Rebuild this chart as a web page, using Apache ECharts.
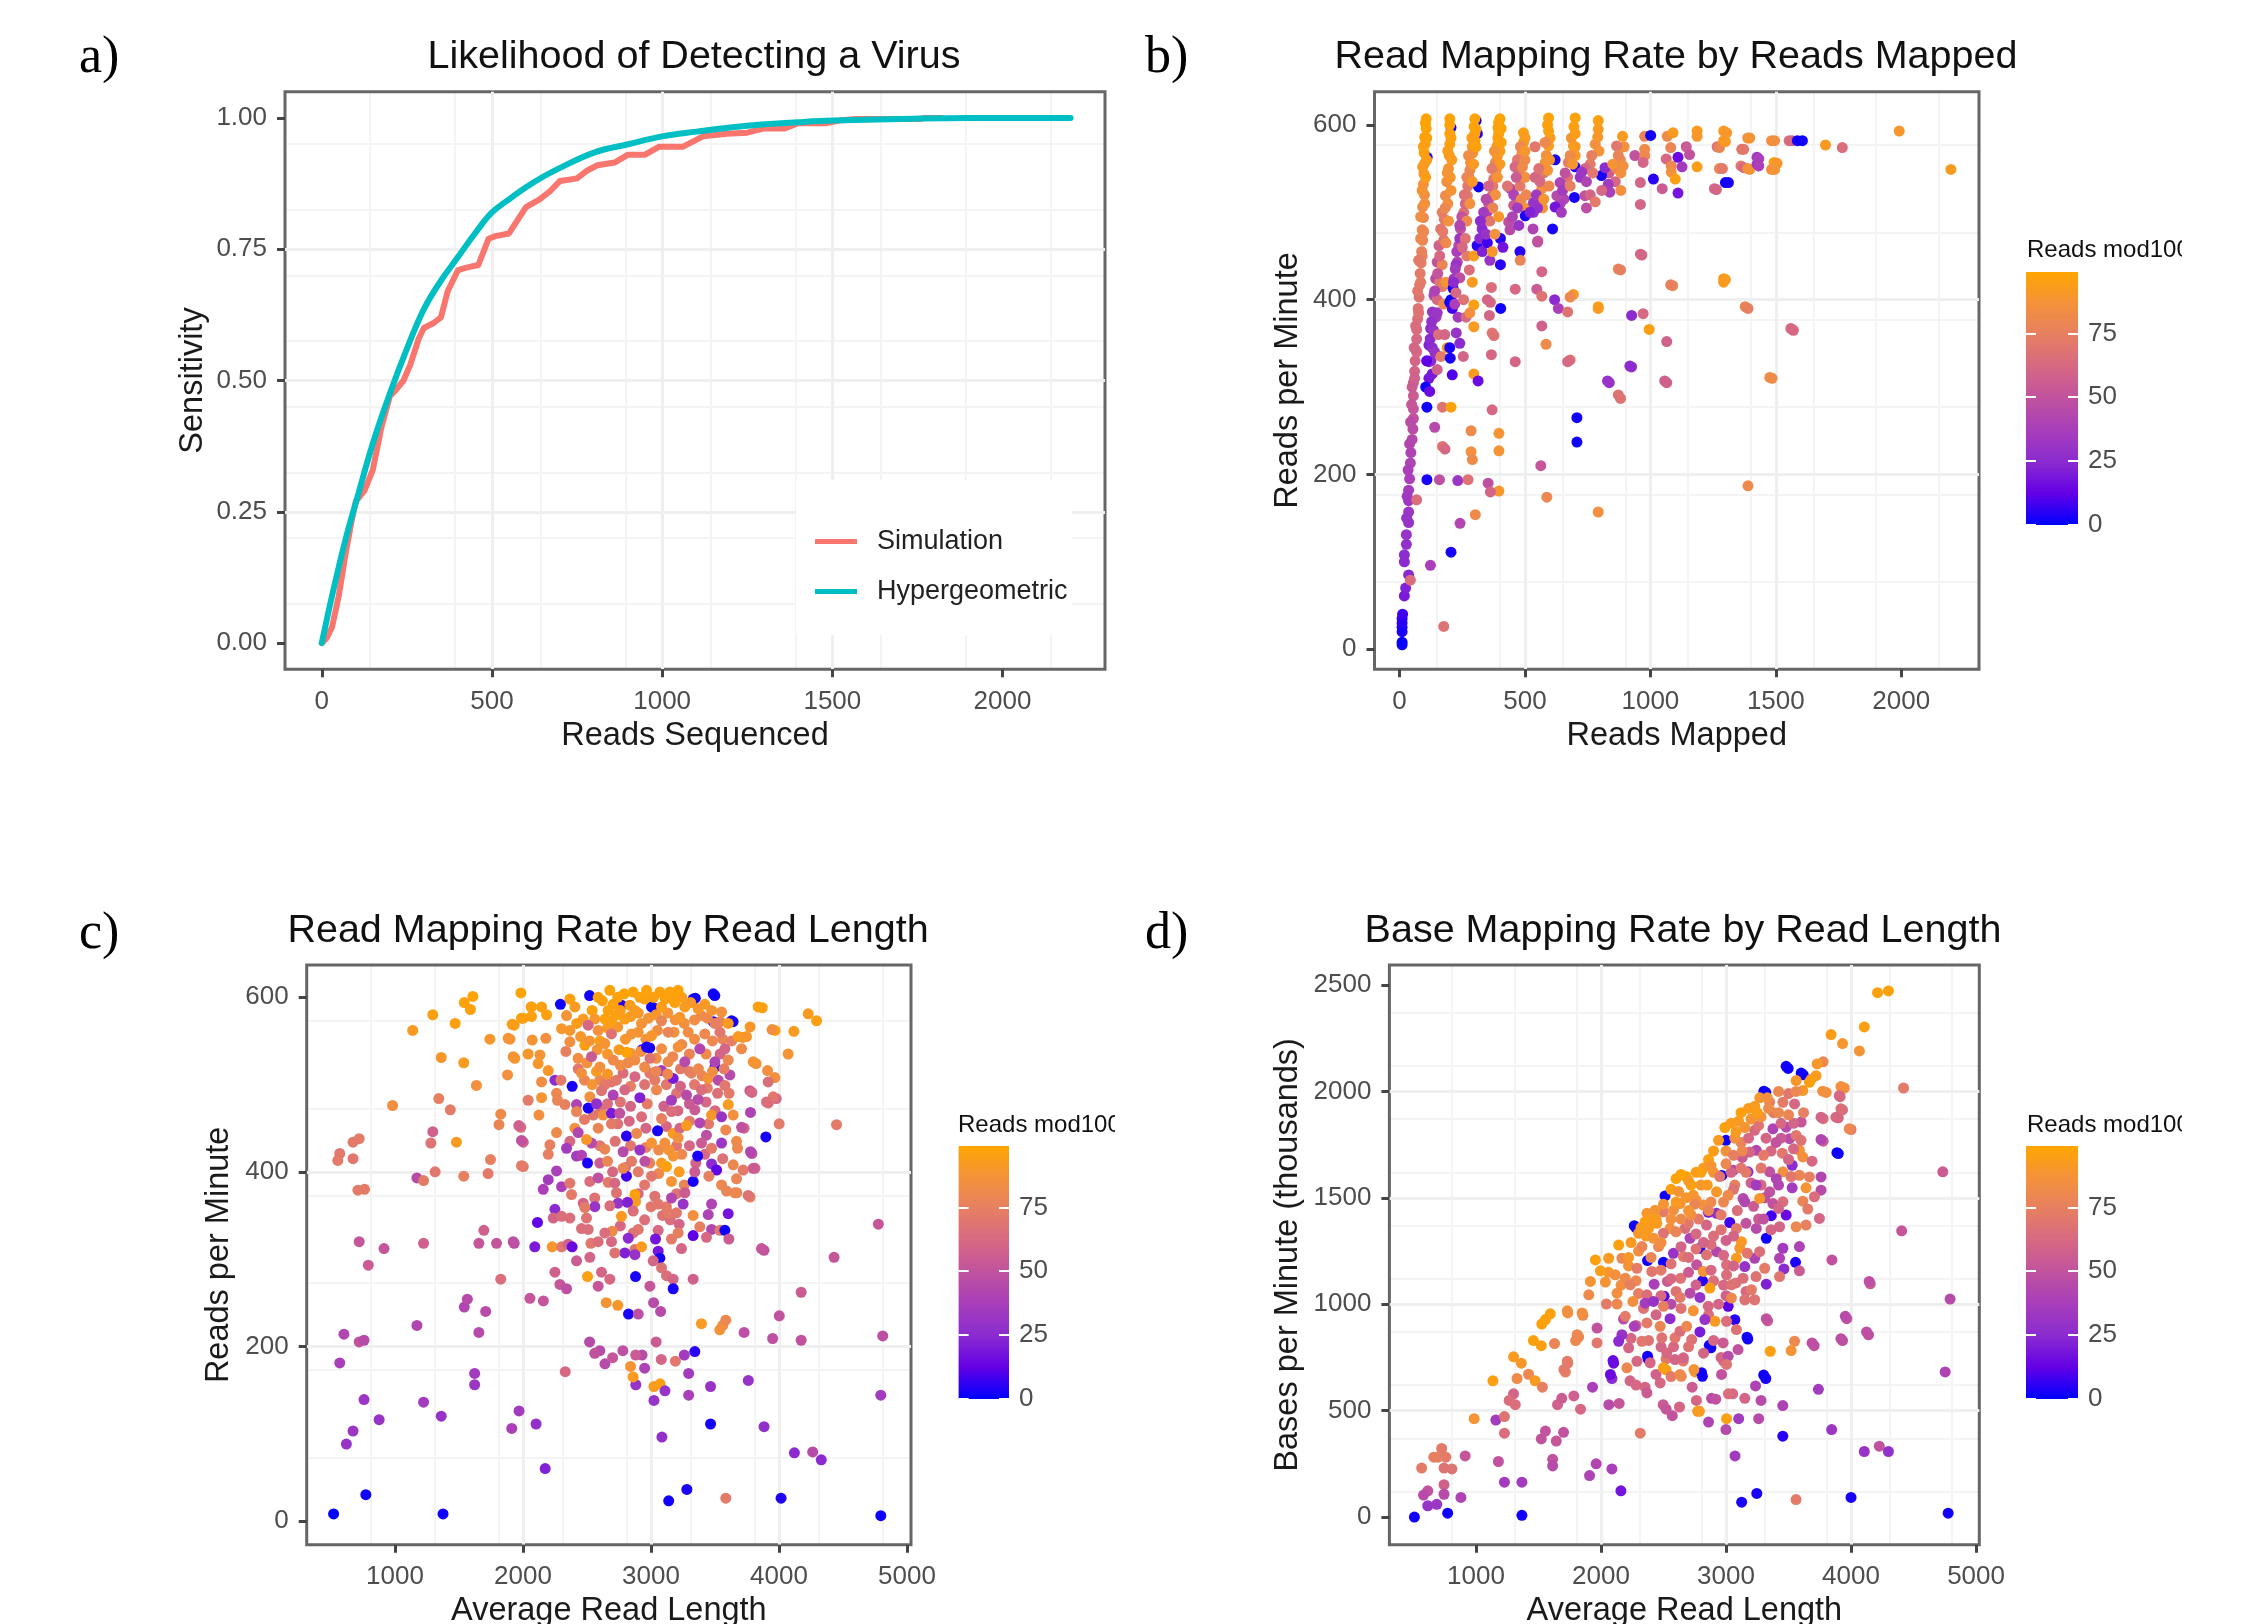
<!DOCTYPE html>
<html><head><meta charset="utf-8">
<style>html,body{margin:0;padding:0;background:#fff}#c{width:2257px;height:1624px}</style>
<script src="https://cdn.jsdelivr.net/npm/echarts@6/dist/echarts.min.js"></script>
</head><body><div id="c"></div>
<script>
// ---- Panel a: [reads sequenced, sensitivity]
const simulation=[[0,0],[15,.01],[30,.03],[50,.09],[70,.17],[90,.24],[100,.27],[125,.29],[150,.33],[175,.41],[200,.47],[215,.48],[240,.5],[260,.53],[285,.58],[300,.6],[330,.61],[350,.62],[370,.67],[400,.71],[425,.715],[460,.72],[490,.77],[510,.775],[550,.78],[580,.81],[600,.83],[640,.845],[670,.86],[700,.88],[750,.885],[780,.9],[810,.91],[860,.915],[900,.93],[950,.93],[990,.945],[1060,.945],[1090,.955],[1120,.965],[1190,.97],[1250,.972],[1300,.98],[1360,.98],[1400,.99],[1480,.99],[1520,.995],[1570,.998],[1760,.998],[1770,1],[1820,1]];
const hypergeometric=[[0,0],[25,.075],[50,.145],[75,.21],[100,.267],[150,.38],[200,.475],[250,.56],[300,.636],[350,.69],[400,.735],[450,.78],[500,.82],[550,.845],[600,.868],[650,.888],[700,.905],[800,.934],[900,.95],[1000,.965],[1100,.974],[1200,.982],[1300,.988],[1400,.992],[1500,.995],[1700,.998],[1900,1],[2200,1]];
// ---- Panel b: [reads mapped, reads per minute, reads mod100]
const mappedPoints=[
[305,605,2],[310,590,3],[205,597,2],[110,563,3],[315,529,2],[620,560,3],[700,552,3],
[10,5,2],[10,8,1],[10,20,3],[10,25,3],[10,30,5],[10,35,5],[12,40,8],[19,61,20],[24,70,22],[36,85,24],[19,100,25],[19,108,26],[27,120,28],[27,131,30],[36,145,30],[36,157,32],[36,170,33],[36,182,36],[40,195,38],[43,213,40],[45,225,40],[50,240,44],[53,252,46],[55,264,50],[55,275,52],[55,290,55],[55,305,56],[60,318,60],[62,330,60],[65,342,62],[68,355,62],[68,366,64],[72,378,66],[74,390,68],[78,403,68],[80,417,70],[82,430,72],[86,442,74],[88,455,76],[92,468,78],[90,480,80],[95,494,80],[92,506,82],[99,520,84],[95,532,86],[97,544,90],[100,556,92],[98,568,96],[102,578,97],[100,586,97],[106,596,98],[103,602,98],[106,607,98],
[108,585,96],[95,575,95],[108,560,94],[92,552,92],[104,540,94],[90,525,88],[100,510,86],[84,495,84],[96,478,80],[84,470,80],[90,450,76],[76,445,72],[84,420,72],[72,410,70],[76,385,68],[64,370,64],[68,340,62],[58,345,60],[60,310,58],[50,300,55],[48,280,52],[44,260,46],[40,235,42],[34,205,38],[30,175,34],[28,150,30],
[117,310,18],[117,329,20],[117,348,22],[124,367,25],[131,386,30],[137,405,42],[144,424,45],[150,443,50],[157,462,58],[164,481,70],[170,500,75],[183,519,82],[188,535,85],[195,550,88],[198,565,92],[200,578,95],[200,590,97],[200,600,98],[200,607,98],[104,300,2],[109,277,2],[171,277,68],[205,277,96],[125,330,25],[130,345,25],[135,365,30],[145,380,35],[150,400,62],[160,420,70],[170,440,78],[176,468,68],[178,492,72],[192,510,85],[202,540,90],[140,254,45],[171,232,68],[181,229,62],[109,194,3],[159,194,48],[123,96,38],[43,79,65],[68,171,65],[176,26,68],
[205,585,96],[192,570,94],[208,560,92],[190,545,88],[205,525,88],[182,505,80],[195,490,86],[172,478,72],[185,465,82],[160,450,62],[152,430,52],[170,415,72],[140,410,40],[150,385,32],[128,375,28],[122,355,25],[140,340,30],[108,330,12],[130,315,20],[120,295,15],[155,360,65],[165,335,72],[150,320,58],[180,360,60],[190,345,92],[175,395,80],[185,420,88],
[213,413,3],[205,400,2],[200,397,2],[217,424,35],[230,443,42],[236,462,45],[243,481,50],[256,500,68],[270,519,72],[283,557,85],[277,540,78],[290,575,92],[300,590,96],[300,607,97],[297,598,98],[225,440,30],[240,470,32],[250,490,45],[262,510,62],[272,530,70],[280,548,80],[292,568,88],[300,582,95],[268,450,72],[278,434,65],[296,450,92],[290,420,92],[225,408,62],[233,380,35],[296,394,95],[296,369,92],[226,362,30],[202,333,3],[210,314,10],[200,345,3],[296,315,92],[313,307,15],[254,335,60],[232,193,32],[273,194,68],[241,144,42],[205,111,3],[285,250,82],[396,247,88],[396,227,88],[285,226,85],[290,217,82],[302,154,82],
[305,595,97],[288,585,94],[305,575,96],[275,565,84],[295,555,92],[268,540,78],[290,535,90],[258,520,68],[280,510,85],[248,495,50],[268,490,80],[240,485,42],[262,470,68],[228,455,38],[250,460,62],[222,435,35],[240,425,48],[215,420,25],[210,390,8],[220,395,38],[255,400,68],[265,380,62],[280,385,85],[240,350,25],
[309,462,5],[329,481,25],[349,500,40],[369,519,65],[375,538,70],[382,557,80],[389,576,92],[395,590,96],[395,603,97],[400,607,98],[392,597,95],[320,470,25],[340,492,30],[355,510,55],[372,530,72],[385,548,85],[390,565,90],[400,570,94],[395,580,96],[330,455,22],[350,465,8],[360,445,30],[402,470,5],[412,460,18],[402,440,5],[366,414,65],[461,412,62],[362,397,62],[358,382,60],[350,400,60],[403,390,2],[369,362,70],[376,359,68],[366,337,62],[461,329,60],[369,274,62],[396,181,90],[353,190,48],[362,180,60],
[405,596,97],[392,585,96],[405,580,95],[378,570,88],[400,555,92],[368,550,72],[390,540,88],[355,530,60],[382,520,85],[345,515,45],[372,505,78],[335,500,35],[360,490,70],[322,490,25],[345,475,30],[395,495,90],[380,475,85],[370,455,90],
[442,527,45],[455,508,55],[435,489,48],[440,480,45],[475,546,72],[488,568,85],[494,580,92],[494,591,95],[470,560,70],[480,530,72],[500,540,85],[505,520,80],[480,455,5],[500,560,82],[455,520,40],[430,530,68],[481,445,78],[551,467,52],[547,412,55],[567,432,60],[567,404,68],[567,370,58],[584,349,82],[563,210,52],[587,174,80],
[500,585,92],[482,575,80],[500,570,90],[460,552,62],[490,552,82],[465,540,55],[485,515,80],[500,505,88],[450,495,40],[470,505,35],[475,485,30],[600,585,92],[585,565,85],[575,545,70],[598,560,90],[570,505,88],[555,515,40],[540,540,60],[550,505,28],[700,575,90],[685,585,88],[670,540,68],[655,515,42],[640,510,38],[700,565,92],[795,570,88],[760,555,72],[740,550,60],[720,540,30],[745,505,48],[880,560,80],[860,535,62],[835,545,55],[895,575,86],
[501,496,3],[534,500,28],[534,511,30],[532,481,40],[550,466,50],[567,527,85],[581,557,88],[594,576,92],[594,593,95],[594,608,97],[590,600,96],[545,520,35],[560,535,62],[520,500,22],[575,515,88],[590,548,88],[596,530,80],[610,481,3],[540,575,70],[555,550,68],[580,580,80],
[620,506,18],[627,519,45],[640,534,40],[673,557,75],[693,576,92],[700,590,94],[700,608,97],[695,598,95],[650,525,35],[660,545,50],[680,530,75],[645,500,35],[680,565,82],[690,555,88],[618,400,25],[633,390,38],[670,386,68],[693,406,92],[680,403,80],[707,265,2],[707,237,2],[680,331,68],[670,329,62],
[697,517,3],[739,519,50],[726,546,32],[745,535,40],[766,565,75],[780,578,85],[792,595,92],[790,586,90],[792,605,95],[805,542,3],[832,532,35],[838,523,38],[819,551,25],[792,392,95],[792,390,92],[792,157,85],[760,520,60],[770,545,70],[806,525,62],[780,512,72],
[889,587,92],[865,576,70],[872,565,78],[865,550,78],[891,553,85],[882,545,85],[882,525,85],[850,555,88],[872,435,78],[881,434,75],[881,287,68],[836,305,30],[925,382,25],[925,323,28],[918,324,25],[829,307,30],[872,291,68],
[938,565,50],[977,587,78],[1001,588,2],[977,572,82],[977,565,80],[971,557,60],[960,534,60],[960,509,60],[960,452,62],[966,451,60],[971,384,62],[995,366,95],[1012,538,5],[1047,527,55],[1063,561,62],[1065,352,58],[1065,305,58],[1057,307,58],
[1067,587,82],[1090,591,92],[1081,574,78],[1083,553,80],[1083,546,85],[1099,538,95],[1110,563,15],[1126,552,35],[1143,575,55],[1156,566,50],[1110,522,18],[1089,416,80],[1081,417,75],
[1186,593,92],[1186,587,90],[1186,552,94],[1255,527,60],[1263,526,60],[1275,550,78],[1266,575,68],[1275,574,78],[1292,593,92],[1292,582,90],[1299,581,92],[1304,591,90],[1299,534,2],[1311,534,3],[1287,550,72],[1292,424,94],[1292,420,92],[1299,423,92],
[1388,585,85],[1396,585,88],[1364,572,70],[1372,572,70],[1361,553,70],[1372,551,62],[1388,550,85],[1396,549,88],[1425,563,35],[1425,555,35],[1432,561,38],[1432,553,38],[1378,392,78],[1389,390,75],[1389,187,82],
[1483,582,85],[1495,582,85],[1493,557,95],[1505,556,90],[1483,549,85],[1495,549,88],[1553,582,65],[1565,582,62],[1586,582,2],[1606,582,2],[1560,367,62],[1570,365,62],[1476,311,82],[1485,310,82],[1698,577,92],[1765,574,65],[1992,593,90],[2198,549,92]];
// ---- Panel c: [average read length, reads per minute, reads mod100]
const lengthRatePoints=[
[520,8,0],[772,30,2],[1375,8,2],[3138,23,2],[3280,36,3],[3584,26,72],[4016,26,4],[4795,6,2],[2173,60,22],[620,88,30],[672,103,32],[876,116,30],[1361,120,30],[1223,136,35],[758,139,32],[1969,126,35],[2102,111,28],[1912,106,38],[3085,96,28],[3465,111,3],[3883,108,28],[4120,78,25],[4263,79,45],[4330,70,25],[4795,144,35],[1622,169,35],[1622,156,32],[2881,156,30],[3023,154,92],[3071,157,95],[3109,149,30],[3023,138,30],[3294,144,38],[3294,169,35],[3465,154,30],[3760,161,30],[2330,171,62],[568,181,38],[601,214,42],[720,205,50],[758,207,45],[1171,224,42],[1655,216,45],[1541,245,42],[1565,254,45],[1708,240,45],[2054,255,52],[2159,252,52],[1826,277,65],[720,320,52],[914,312,52],[791,293,55],[1223,318,58],[1655,318,52],[1694,333,58],[1793,318,52],[1931,318,45],[4776,340,52],[4430,302,52],[3883,310,50],[4173,262,55],[4002,235,50],[3950,209,48],[4173,207,50],[3727,216,48],[4810,212,48],[3394,226,92],[3537,219,88],[3560,224,85],[3584,230,80],
[2600,195,45],[2640,180,45],[2700,187,52],[2780,195,48],[2840,177,88],[2860,165,92],[2930,190,45],[3040,205,55],[3080,185,60],[3190,183,70],[3260,190,35],[3342,194,5],[2520,205,45],[2560,192,50],[2880,190,55],[2950,175,40],
[1138,562,92],[1295,580,95],[1470,570,96],[1541,594,97],[1608,601,98],[1589,586,96],[1983,605,98],[1361,531,90],[1537,525,92],[1636,499,85],[981,476,85],[1342,484,75],[1432,471,72],[1480,434,92],[1295,446,58],[1280,433,68],[720,438,72],[672,434,72],[568,421,70],[553,413,72],[672,415,70],[710,379,72],[762,380,72],[1313,400,70],[1171,393,45],[1223,390,72],[1537,395,75],[1727,398,72],[1746,414,75],[1812,454,78],[1826,466,82],[1741,552,90],[1898,552,88],[1879,511,85],[1936,530,90],[1931,568,95],[2002,576,96],[2064,589,94],[1983,451,65],[2002,434,58],[2002,406,72],
[2066,589,96],[2145,589,95],[2184,580,96],[2066,578,95],[1988,576,96],[1915,569,94],[1884,553,88],[2072,551,88],[2178,553,85],[1923,532,88],[2040,535,90],[2132,534,88],[2118,524,90],[2197,516,90],[2145,503,84],[2249,505,25],[2296,505,72],[2384,498,3],[2145,485,88],[2040,482,72],[2262,490,80],[2124,465,85],[1967,453,58],[1988,436,50],[2269,482,78],[2327,477,75],[2418,477,40],[2431,518,70],[2335,538,75],[2366,549,85],[2483,545,96],[2301,564,90],[2340,579,88],[2405,589,92],[2366,598,96],[2366,562,90],
[3969,562,96],[3869,588,95],[4228,581,92],[4293,573,95],[3946,563,85],[4116,561,92],[4071,535,88],[3837,589,96],[3798,526,88],[3910,516,85],[3967,508,85],[3915,503,65],[4449,454,72],[4001,455,72],[3897,440,3],[3978,484,62],[3917,479,65],[3954,486,70],[3902,480,65],[3772,493,55],[3788,491,62],[3777,468,40],[3727,450,60],[3788,421,50],[3812,404,60],[3774,371,75],[3670,376,80],[3774,566,90],[3717,554,88],[3821,524,88],[3642,408,80],[3798,404,55],[3720,402,72],[3759,373,68],[3863,312,52],
[3641,572,2],[3498,602,2],[3346,599,2],[3486,604,2],[3329,598,2],[2520,602,2],[2292,592,2],[3019,588,1],[2769,591,5],[3629,573,3],[3486,572,5],
[2420,570,94],[2470,575,92],[2540,585,96],[2450,555,90],[2520,550,88],[2560,575,90],[2430,530,84],[2500,525,86],[2480,505,78],[2600,505,80],[2540,500,88],[2610,472,66],[2480,460,72],[2550,465,70],[3200,490,68],[3300,515,74],[3400,510,78],[3520,490,66],[3610,490,72],[3500,470,62],[3450,455,70],[3200,430,70],[3350,410,60],[3420,420,62],[3560,415,68],[3120,360,72],[3200,375,68],[2700,400,62],[2600,410,55],[2560,370,68],
[2640,500,72],[2730,505,70],[2840,498,74],[2950,500,68],[3030,505,72],[3120,500,70],[3230,498,60],[3340,500,70],[3440,496,72],[2660,478,65],[2760,480,68],[2840,475,60],[2970,478,72],[3100,475,58],[3210,470,62],[3300,478,55],[3430,480,62],[2740,455,68],[2830,458,62],[2960,450,60],[3120,452,62],[3300,458,72],[2600,430,70],[2720,435,68],[2840,430,70],[2960,428,75],[3060,425,82],[3140,425,88],[3240,420,80],[3300,430,62],[2800,405,66],[2900,400,72],[2990,410,76],[3060,398,80],[3220,400,92],[3260,385,78],[2950,385,70],[2900,375,62],[3000,360,70],[3090,350,68],[3150,345,65],[2950,345,66],[3220,340,60],[2760,338,62],[2530,318,70],
[2457,513,85],[2574,515,92],[2691,503,70],[2782,513,65],[2874,509,62],[2991,513,72],[3082,516,35],[3173,507,20],[3316,513,75],[3447,507,88],[3525,505,45],[3616,511,45],[3577,499,70],[2522,486,85],[2704,488,40],[2613,493,68],[2795,494,62],[2913,485,22],[3043,494,80],[3160,482,35],[3277,488,45],[3368,483,45],[3394,494,65],[2418,469,78],[2509,473,3],[2574,478,28],[2626,465,85],[2691,467,20],[2756,467,50],[2926,463,65],[3082,461,75],[3160,469,65],[3342,471,55],[3473,465,90],[3551,463,30],[3603,477,92],[3642,465,85],
[2262,445,82],[2405,450,85],[2431,445,42],[2587,450,78],[2691,455,72],[2808,441,5],[2887,444,80],[3051,447,3],[3173,444,92],[3225,450,60],[3277,453,92],[3381,456,42],[3433,442,48],[3584,448,80],[3707,451,50],[2210,431,75],[2366,435,62],[2340,427,35],[2535,433,45],[2496,437,90],[2639,426,78],[2782,423,45],[2913,425,30],[3004,433,88],[3108,433,85],[3212,439,85],[3394,433,55],[3473,427,72],[3551,433,32],[3668,435,82],[3676,427,80],[3777,423,42],
[2197,420,75],[2418,418,35],[2457,419,40],[2504,410,3],[2660,412,78],[2848,412,72],[2952,412,48],[3082,410,92],[3173,418,88],[3364,418,3],[3121,406,96],[3473,409,25],[3512,402,12],[1988,407,72],[2262,401,38],[2197,391,35],[2158,380,38],[2301,383,38],[2366,387,70],[2522,389,65],[2587,393,48],[2665,388,72],[2717,387,62],[2808,395,8],[2782,404,78],[3004,395,70],[3160,389,88],[3329,389,3],[3342,400,55],[3452,395,75],[3668,392,78],[3551,385,80],[3590,378,78],[3655,376,80],
[2379,374,72],[2730,376,68],[2874,374,96],[2879,366,92],[3030,372,68],[3160,370,42],[3264,376,55],[3251,363,30],[3473,363,40],[2743,364,30],[2816,365,22],[2470,364,60],[2678,361,65],[2561,360,30],[3056,363,70],[2249,357,25],[2236,347,60],[2301,349,65],[2366,347,65],[2483,359,72],[2496,347,68],[2769,349,92],[2861,355,65],[3134,353,72],[3199,353,70],[3329,350,85],[3447,351,40],[3603,352,18],[2113,342,12],
[2457,335,65],[2509,334,65],[2697,332,82],[2639,330,65],[2900,334,70],[2861,330,68],[3056,333,62],[3212,330,75],[3381,337,75],[3329,327,12],[3473,334,42],[3538,333,72],[3577,333,2],[3433,325,62],[3608,323,55],[1923,320,48],[2092,314,20],[2228,314,90],[2301,314,70],[2353,317,58],[2384,314,15],[2587,320,65],[2691,320,62],[2822,324,25],[2874,311,68],[2926,314,92],[3035,323,18],[3056,309,18],[3160,323,72],[3238,312,60],[2795,307,22],[2717,307,68],[2874,305,30],[2418,298,55],[2522,302,60],[3069,301,3],[3017,298,60],[3082,290,68],[2249,285,58],[2504,280,95],[2613,285,60],[2678,277,62],[2879,280,3],[3121,281,65],[3173,277,60],[3329,277,58],[2288,271,52],[2587,269,52],[2991,269,52],[2340,266,48],[3173,266,3],[2824,237,3],[2900,237,48],[3020,250,45],[3075,240,45],[2650,250,88],[2740,247,90],
[3004,589,2],[2990,542,3],[2930,540,8],[3500,520,4],
[2600,550,94],[2660,565,92],[2740,566,90],[2800,552,90],[2900,560,88],[2960,552,86],[3050,562,84],[3180,560,86],[3240,546,82],[3340,552,84],[3480,550,80],[3560,552,78],[3630,550,74],[2580,540,88],[2660,535,90],[2750,540,92],[2840,536,88],[2920,538,86],[3040,530,84],[3170,532,80],[3300,535,78],[3430,535,82],[3540,535,60],[2600,520,86],[2660,512,90],[2760,522,84],[2820,525,82],[2950,520,82],[3040,515,78],[3130,512,80],[3230,518,72],[3370,518,80],[3480,515,84],[3570,518,74],
[2639,547,88],[2809,537,98],[2965,543,3],[3082,541,84],[3212,543,86],[3381,541,42],[3577,541,60],[3707,541,82],[2535,532,55],[2704,528,82],[2874,528,84],[2991,530,68],[3134,526,82],[3264,526,45],[3499,526,40],[3603,528,80],
[2640,575,97],[2730,580,96],[2760,585,94],[2840,578,92],[2900,582,90],[2980,576,88],[3040,580,90],[3130,582,88],[3190,574,86],[3260,570,85],[3340,574,84],[3440,576,80],[3540,572,78],
[2691,573,95],[2795,575,94],[2926,570,88],[3082,573,78],[3225,577,90],[3394,579,82],[3499,570,75],[3603,570,92],[2509,568,62],[2587,562,86],[2691,558,68],[2848,558,88],[3004,556,90],[3134,560,78],[3290,560,84],[3420,558,80],[3538,560,70],[3681,555,92],[3746,555,90],
[2620,596,96],[2740,600,97],[2790,604,98],[2860,606,97],[2950,598,96],[3020,600,95],[3110,598,97],[3170,598,96],[3240,600,94],[3310,594,90],[3420,592,92],
[2678,608,98],[2965,608,97],[3069,606,96],[3212,608,98],[3147,606,97],[2587,600,96],[2913,600,96],[2704,592,96],[2835,591,94],[3186,594,96],[3264,589,92],[3368,587,90],[3473,585,88],[3551,583,86],[2665,585,96],[2874,585,92],[3082,589,94]];
// ---- Panel d: [average read length, bases per minute (thousands), reads mod100]
const lengthBasePoints=[
[507,0,2],[773,18,2],[1367,8,2],[3125,70,3],[3246,111,3],[3560,82,72],[4000,92,3],[4777,18,2],[2159,123,18],[2087,226,38],[1961,250,42],[1908,195,40],[1613,271,50],[1613,240,45],[1179,261,50],[1227,164,35],[1367,164,35],[565,230,72],[662,281,75],[725,322,72],[696,281,75],[758,281,72],[744,230,68],[807,226,68],[913,287,52],[744,152,58],[744,107,45],[879,92,40],[614,123,50],[580,103,45],[614,53,30],[686,60,32],
[3072,287,35],[3454,380,5],[3845,411,32],[4106,308,30],[4226,333,50],[4299,308,28],[2999,411,45],[2860,446,40],[3101,462,35],[3261,462,45],[3454,524,40],[3280,548,45],[3739,600,35],[4753,682,40],[4792,1024,45],[4734,1622,55],[4405,1345,52],[4154,1096,55],[3966,932,50],[3932,829,48],[4140,856,48],[3705,805,48],[3318,651,3],[3236,616,40],[3333,922,55],[3174,836,3],[2879,795,3],[2811,661,3],[2376,743,5],[2101,723,15],[2087,651,25],[1932,610,38],[2062,528,45],[2145,534,52],[1836,507,62],[1782,569,58],[1652,528,58],[1686,558,55],[1700,398,50],[1642,357,52],[1555,404,50],[1522,367,50],[1227,394,65],[1159,456,35],[1227,472,68],[985,462,88],[1135,640,95],[1328,651,82],[1300,579,60],[1265,548,65],[1314,528,65],[1300,753,92],[1362,723,90],[1420,671,80],[1473,640,92],[1531,610,75],[1459,829,96],[1522,805,95],[1628,815,78],[1526,907,96],[1555,928,97],[1594,955,96],[1734,959,85],[1855,948,82],[1821,846,78],[1797,829,80],[1734,723,72],[1715,681,75],
[2314,394,72],[2497,528,55],[2570,476,50],[2628,517,60],[2521,507,52],[2787,497,92],[2884,558,45],[3004,462,95],[3053,579,62],[3150,558,60],[2232,640,60],[2280,620,62],[2352,610,60],[2367,583,55],[2473,630,62],[2729,610,55],[2642,661,78],[2521,692,95],[2753,682,90],[2657,733,72],[2521,743,70],[2763,548,62],[2918,554,50],[2773,497,92],[3019,579,65],[2980,733,62],
[4299,2472,97],[4212,2464,96],[4106,2303,95],[3840,2267,94],[3932,2225,90],[4067,2190,88],[3777,2139,80],[3729,2129,90],[4420,2016,72],[3497,2108,2],[3618,2078,2],[3318,1995,2],[2999,1770,2],[2966,1605,2],[2512,1509,2],[2280,1359,2],[3898,1708,2],[4000,1821,72],[3777,1766,55],[3777,1872,65],[3898,1876,60],[3932,1913,65],[3913,1975,65],[3946,2016,85],[3801,1995,85],[3681,2057,92],
[3481,2118,2],[3601,2086,2],[3303,2001,2],[2266,1369,2],[3322,1310,2],[3362,1416,8],[3481,1419,15],[3030,1384,8],[2791,1263,5],[2372,1205,2],[2499,1197,2],[3556,1197,3],[3887,1712,2],[2812,1110,5],[2505,1037,10],[3017,990,12],[3070,927,5],[3168,845,2],[2866,807,2],[2372,756,2],[2096,735,15],[2075,670,15],[2804,678,2],[3301,667,2],
[3240,1130,68],[3160,1060,62],[3080,1100,66],[2980,1090,62],[2900,1110,66],[2760,1090,58],[2600,1060,68],[2480,1040,62],[2300,1050,75],[2220,1180,88],[2060,1150,90],[2160,1090,85],[2280,1110,80],[2340,980,68],[2440,950,60],[2560,1000,45],[2640,980,68],[2860,950,65],[2940,1000,60],[3000,1040,58],[2480,800,60],[2380,830,68],[2280,900,62],[2180,930,45],[2240,840,62],[2700,800,68],[2580,800,62],[2820,770,60],[2900,830,62],[2960,750,60],[2440,670,58],[2560,660,72],
[3136,1497,45],[3176,1622,28],[3057,1629,42],[3242,1723,42],[3189,1715,60],[3375,1824,40],[3229,1817,62],[3481,1832,45],[3508,1778,45],[3561,1793,70],[3601,1856,52],[3587,1723,88],[3614,1692,85],[3688,1672,62],[3529,1653,25],[3455,1622,85],[3349,1622,50],[3402,1590,40],[3587,1606,78],[3667,1598,75],[3760,1598,42],[3529,1547,35],[3640,1547,88],[3760,1536,45],[3707,1505,65],[3614,1484,78],[3654,1447,72],[3747,1403,60],[3640,1372,75],[3561,1364,80],[3428,1364,60],[3349,1528,50],[3150,1481,42],[3375,1473,50],[3455,1481,65],[3242,1356,45],[3083,1356,72],[3123,1294,92],[3110,1263,90],[2712,1310,40],[2672,1356,65],[2844,1372,60],[2924,1427,28],[2858,1432,20],[2698,1380,70],[2552,1356,85],[2460,1271,80],[2579,1239,30],[2659,1224,72],[2765,1185,50],[2924,1247,42],[2844,1232,68],[3004,1185,65],[3083,1216,92],[3150,1177,30],[3229,1216,40],[3269,1247,65],[3455,1263,35],[3587,1271,40],[3428,1216,40],[3463,1166,25],[3587,1157,55],[3309,1169,72],[3428,1130,70],[3322,1094,22],[3136,1122,65],[3004,1138,65],[3043,1091,68],[2871,1076,96],[2818,1154,88],[2637,1122,68],[2531,1107,55],[2425,1094,38],[2287,1169,72],[2406,1154,70],[2167,1216,80],[2061,1216,92],[1955,1208,96],[1995,1157,94],[2141,1278,96],[2114,1138,85],[1915,1107,88],[2035,1104,88],[2194,1122,82],[2234,1091,75],[1902,1044,82],[2128,1052,85],[2043,1001,72],[2128,1001,80],[2255,1013,85],[2367,1044,65],[2353,1005,35],[2420,1013,30],[2499,990,75],[2632,1032,72],[2712,1052,45],[2791,1032,30],[2858,990,62],[2738,969,88],[3150,1021,68],[3229,1021,68],[3203,1068,72],[3043,1029,80],[3322,932,50],[3954,943,45],[4124,870,48],[3919,838,48],[3688,818,48],[3548,826,80],[3521,782,88],[3354,779,95],[3847,1208,50],[4145,1107,48],[1730,969,85],[1849,959,85],[1968,888,50],[1809,857,80],[1968,818,70],[1730,732,72],[1703,693,72],[2194,943,72],[2552,932,25],[2266,896,38],[2167,857,30],[2141,826,25],[2221,795,60],[2367,912,72],[2473,896,78],[2486,842,68],[2327,826,70],[2592,842,70],[2632,873,65],[2685,896,80],[2725,834,68],[2791,870,20],[2911,920,92],[2831,928,30],[2977,818,55],[3096,787,50],[3017,756,45],[3083,881,68],[3004,920,65],[2526,771,62],[2659,748,60],[2592,740,60],[2287,732,62],[2393,725,62],[2207,701,80],[2499,701,95],[2743,693,88],[2632,670,82],[2964,670,50],[3004,717,68],
[3070,1560,75],[3160,1620,72],[3280,1640,70],[3360,1720,62],[3440,1780,55],[3540,1850,60],[3620,1900,75],[3600,1770,68],[3520,1600,70],[3420,1450,60],[3360,1350,60],[3260,1400,55],[3160,1380,50],[3060,1320,60],[2960,1350,68],[2880,1280,65],[2760,1260,68],[2700,1220,65],[2560,1190,68],[2480,1160,72],
[3120,1760,78],[3180,1780,62],[3260,1840,68],[3320,1780,60],[3380,1900,72],[3440,1850,62],[3500,1890,78],[3540,1730,62],[3450,1710,70],[3300,1700,72],[3120,1640,70],[3200,1570,58],[3280,1560,62],[3060,1540,68],[2880,1480,82],[2960,1420,72],[3090,1440,65],[3220,1460,55],[3300,1400,50],[2780,1400,72],[2600,1340,78],[2760,1330,62],[2900,1320,65],[3000,1300,58],[2820,1290,60],[2640,1270,60],[2980,1230,62],[3060,1180,60],[3170,1240,70],[2880,1160,62],[2700,1150,55],[2560,1120,62],[2400,1220,78],[2300,1250,85],[2240,1290,92],[2220,1220,90],[3400,1760,50],[3500,1680,60],[3420,1560,42],[3310,1500,48],[3240,1560,35],[3130,1690,55],[3040,1620,60],
[2499,1434,72],[2367,1427,90],[2433,1442,88],[2353,1388,96],[2446,1380,92],[2300,1333,90],[2380,1356,92],[2327,1271,78],[2499,1333,68],[2579,1442,85],[2632,1473,88],[2738,1512,90],[2818,1466,85],[2924,1528,90],[3017,1512,82],[3269,1497,90],[3349,1949,75],[3455,1949,72],[3548,1941,62],[3614,2004,90],[3773,2001,85],[3720,2074,92],[3561,2051,90],[3667,2043,96],[3919,2023,85],[3906,1980,62],[3919,1918,65],[3879,1879,62],[3760,1879,60],[3986,1824,80],[3760,1774,42],
[3070,1780,86],[3130,1720,80],[3000,1720,86],[2900,1620,88],[2800,1560,90],[2760,1490,88],[2680,1500,90],[2600,1480,92],[2500,1470,88],[2440,1400,92],[2400,1400,94],[2320,1360,92],[2360,1320,92],[2420,1310,88],[2480,1290,84],[2560,1400,86],[2640,1400,82],[2720,1420,84],[2860,1440,78],[2980,1480,80],
[2560,1540,96],[2600,1590,98],[2640,1610,97],[2680,1600,98],[2720,1560,96],[2760,1620,94],[2820,1640,92],[2860,1680,95],[2900,1720,94],[2940,1770,92],[2990,1830,96],[3040,1850,94],[3100,1860,92],[3120,1900,96],[3180,1920,94],[3230,1930,92],[3270,1970,90],[3200,1870,88],[3280,1880,86],[3340,1920,82],[3420,1900,80],
[2700,1580,92],[2620,1530,88],[2750,1470,78],[2880,1650,88],[2950,1600,70],[3000,1660,80],[3060,1700,75],[2700,1440,88],[2850,1560,92],[2800,1620,95],[3150,1830,88],[3080,1810,92],[3250,1900,94],[3330,1970,85],[3420,2000,80],[3500,1990,70],[3560,2000,80]];
// ---- Axis ticks
const ticksAX=[0,500,1000,1500,2000], ticksAY=[0,0.25,0.5,0.75,1];
const ticksBX=[0,500,1000,1500,2000], ticksBY=[0,200,400,600];
const ticksCX=[1000,2000,3000,4000,5000], ticksCY=[0,200,400,600];
const ticksDX=[1000,2000,3000,4000,5000], ticksDY=[0,500,1000,1500,2000,2500];
const colourTicks=[0,25,50,75];
const colourStops=['#0000ff','#6300e6','#8a2bd0','#a83ebb','#c0529f','#d66883','#e67f62','#f4923b','#ffa500'];

const FONT='"Liberation Sans",Arial,sans-serif';
const panels=[
 {box:[285,91.7,1105,669.3],xr:[-108,2301],yr:[-0.05,1.05],xi:500,yi:0.25,xt:ticksAX,yt:ticksAY,xn:'Reads Sequenced',yn:'Sensitivity',yg:75,xg:50,xm:20,fmt:v=>v.toFixed(2)},
 {box:[1374.5,91.7,1979,669.3],xr:[-100,2310],yr:[-23,638],xi:500,yi:200,xt:ticksBX,yt:ticksBY,xn:'Reads Mapped',yn:'Reads per Minute',yg:70,xg:50,xm:20},
 {box:[306.7,965,911,1544.7],xr:[310,5031],yr:[-27.3,637],xi:1000,yi:200,xt:ticksCX,yt:ticksCY,xn:'Average Read Length',yn:'Reads per Minute',yg:71,xg:50,xm:19},
 {box:[1389.4,965,1979.3,1544.7],xr:[307,5026],yr:[-130,2594],xi:1000,yi:500,xt:ticksDX,yt:ticksDY,xn:'Average Read Length',yn:'Bases per Minute (thousands)',yg:84.5,xg:50,xm:19}
];
const bars=[[2026,272,2078,525],[958.6,1146,1009,1399],[2026,1146,2078,1399]];
const GREY='#4d4d4d';
const grid=[],xAxis=[],yAxis=[];
panels.forEach(p=>{
 const gi=grid.length,[l,t,r,b]=p.box;
 grid.push({left:l,top:t,width:r-l,height:b-t,outerBoundsMode:'none',show:true,borderColor:'#666',borderWidth:3,backgroundColor:'transparent',z:1});
 const major=(pos,name,gap,ticks,range,iv,f,pad,mg)=>({type:'value',gridIndex:gi,position:pos,min:range[0],max:range[1],interval:iv,name:name,nameLocation:'middle',nameGap:gap,z:2,
   nameTextStyle:{fontFamily:FONT,fontSize:32.5,color:'#1a1a1a'},
   axisLine:{show:false,onZero:false},axisTick:{show:true,length:8,customValues:ticks,lineStyle:{color:'#444',width:3}},
   axisLabel:{show:true,margin:mg,padding:pad,customValues:ticks,fontFamily:FONT,fontSize:26,color:GREY,formatter:f||(x=>String(x))},
   splitLine:{show:true,showMinLine:false,showMaxLine:false,lineStyle:{color:'#efefef',width:3}},minorTick:{show:false},minorSplitLine:{show:false}});
 const minor=(pos,range,iv)=>({type:'value',gridIndex:gi,position:pos,min:range[0],max:range[1],interval:iv,z:0,axisLine:{show:false,onZero:false},axisTick:{show:false},axisLabel:{show:false},
   splitLine:{show:true,showMinLine:false,showMaxLine:false,lineStyle:{color:'#f4f4f4',width:2}}});
 xAxis.push(minor('top',p.xr,p.xi/2),major('bottom',p.xn,p.xg,p.xt,p.xr,p.xi,null,[0,0,0,0],p.xm));
 yAxis.push(minor('right',p.yr,p.yi/2),major('left',p.yn,p.yg,p.yt,p.yr,p.yi,p.fmt,[0,0,0,0],18));
 p.xIdx=xAxis.length-1;p.yIdx=yAxis.length-1;
});
const gradient=new echarts.graphic.LinearGradient(0,1,0,0,colourStops.map((c,i)=>({offset:i/(colourStops.length-1),color:c})));
bars.forEach(([l,t,r,b])=>{
 const gi=grid.length;
 grid.push({left:l,top:t,width:r-l,height:b-t,outerBoundsMode:'none',show:true,borderWidth:0,backgroundColor:gradient,z:1});
 xAxis.push({type:'value',gridIndex:gi,min:0,max:1,show:false});
 const rng={min:0,max:99};
 const tick={show:true,inside:true,length:10,customValues:colourTicks,lineStyle:{color:'#fff',width:2}};
 yAxis.push({type:'value',gridIndex:gi,position:'right',...rng,interval:25,z:3,axisLine:{show:false,onZero:false},splitLine:{show:false},axisTick:tick,
   axisLabel:{show:true,margin:10,customValues:colourTicks,fontFamily:FONT,fontSize:26,color:GREY}});
 yAxis.push({type:'value',gridIndex:gi,position:'left',...rng,interval:25,z:3,axisLine:{show:false,onZero:false},splitLine:{show:false},axisTick:tick,axisLabel:{show:false}});
});
const scat=(i,d)=>({type:'scatter',xAxisIndex:panels[i].xIdx,yAxisIndex:panels[i].yIdx,data:d,symbolSize:11,encode:{x:0,y:1},itemStyle:{opacity:1},silent:true,z:3});
const line=(n,c,d,s)=>({type:'line',name:n,color:c,xAxisIndex:panels[0].xIdx,yAxisIndex:panels[0].yIdx,data:d,smooth:s,showSymbol:false,lineStyle:{width:6,color:c,cap:'round',join:'round'},z:3});
const series=[line('Simulation','#F8766D',simulation,false),line('Hypergeometric','#00BFC4',hypergeometric,0.4),scat(1,mappedPoints),scat(2,lengthRatePoints),scat(3,lengthBasePoints)];
const T=(text,left,top,size,extra)=>Object.assign({text,left,top,textStyle:{fontFamily:FONT,fontSize:size,fontWeight:'normal',color:'#111'},padding:0},extra||{});
const title=[
 T('Likelihood of Detecting a Virus',694,37,39.5,{textAlign:'center'}),
 T('Read Mapping Rate by Reads Mapped',1676,37,39.5,{textAlign:'center'}),
 T('Read Mapping Rate by Read Length',608,911,39.5,{textAlign:'center'}),
 T('Base Mapping Rate by Read Length',1683,911,39.5,{textAlign:'center'})
];
[['a)',79,32],['b)',1145,32],['c)',79,908],['d)',1145,908]].forEach(a=>{
 const t=T(a[0],a[1],a[2],52);t.textStyle.fontFamily='"Liberation Serif","Times New Roman",serif';t.textStyle.color='#000';title.push(t);
});
[[2027,238],[958,1113],[2027,1113]].forEach(a=>title.push(T('Reads mod100',a[0],a[1],24)));
const chart=echarts.init(document.getElementById('c'),null,{renderer:'canvas'});
chart.setOption({animation:false,backgroundColor:'#fff',grid,xAxis,yAxis,series,title,
 legend:{show:true,data:['Simulation','Hypergeometric'],orient:'vertical',left:796,top:480,backgroundColor:'#fff',padding:[48,4,30,19],itemGap:23,itemWidth:42,itemHeight:5,icon:'rect',
   textStyle:{fontFamily:FONT,fontSize:27,color:'#222',padding:[0,0,0,15]},z:4},
 visualMap:{show:false,type:'continuous',seriesIndex:[2,3,4],dimension:2,min:0,max:99,inRange:{color:colourStops}},
 graphic:[{type:'rect',shape:{x:2182,y:230,width:40,height:40},style:{fill:'#fff'},z:100},{type:'rect',shape:{x:1115,y:1105,width:40,height:40},style:{fill:'#fff'},z:100},{type:'rect',shape:{x:2182,y:1105,width:40,height:40},style:{fill:'#fff'},z:100}]
});
</script></body></html>
